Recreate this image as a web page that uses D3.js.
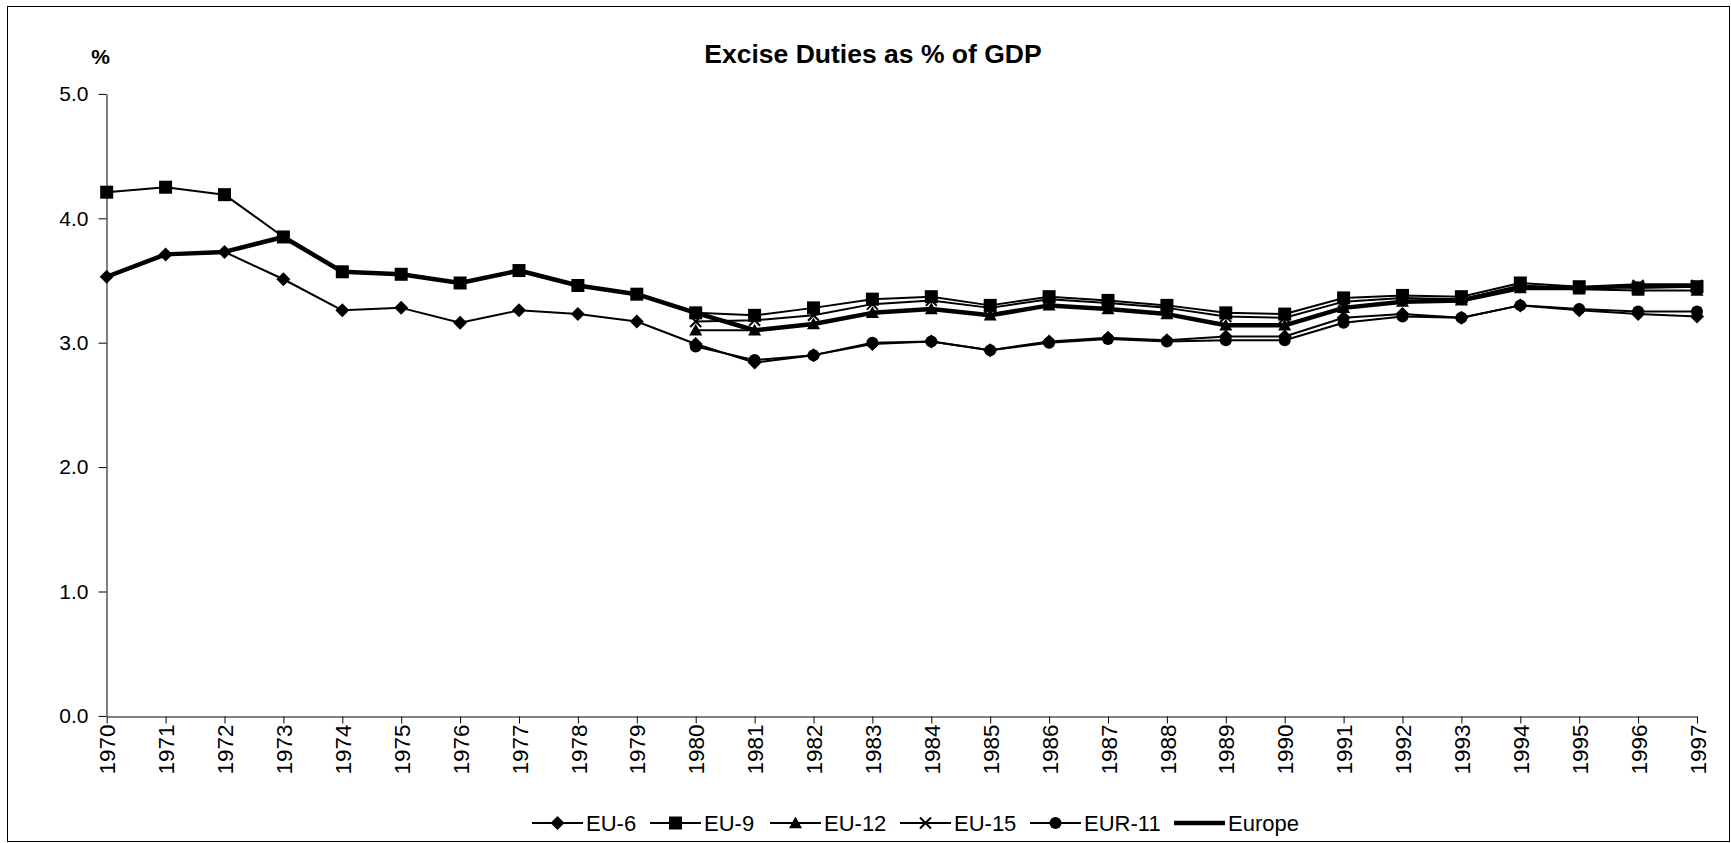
<!DOCTYPE html>
<html>
<head>
<meta charset="utf-8">
<script src="https://cdn.jsdelivr.net/npm/d3@7"></script>
<style>
  html, body { margin: 0; padding: 0; background: #fff; }
  svg { display: block; }
  text { font-family: "Liberation Sans", Arial, sans-serif; fill: #000; }
</style>
</head>
<body>
<script>
// ---- data ----
const years = ["1970","1971","1972","1973","1974","1975","1976","1977","1978","1979",
               "1980","1981","1982","1983","1984","1985","1986","1987","1988","1989",
               "1990","1991","1992","1993","1994","1995","1996","1997"];
const yTicks = [0, 1, 2, 3, 4, 5];

const eu6 = [3.53, 3.71, 3.73, 3.51, 3.26, 3.28, 3.16, 3.26, 3.23, 3.17,
             2.99, 2.84, 2.90, 2.99, 3.01, 2.94, 3.01, 3.04, 3.02, 3.05,
             3.05, 3.20, 3.23, 3.20, 3.30, 3.26, 3.23, 3.21];
const eu9 = [4.21, 4.25, 4.19, 3.85, 3.57, 3.55, 3.48, 3.58, 3.46, 3.39,
             3.24, 3.22, 3.28, 3.35, 3.37, 3.30, 3.37, 3.34, 3.30, 3.24,
             3.23, 3.36, 3.38, 3.37, 3.48, 3.45, 3.44, 3.45];
const eu12 = [null, null, null, null, null, null, null, null, null, null,
              3.10, 3.10, 3.15, 3.24, 3.27, 3.22, 3.30, 3.27, 3.23, 3.14,
              3.14, 3.28, 3.33, 3.34, 3.44, 3.43, 3.42, 3.42];
const eu15 = [null, null, null, null, null, null, null, null, null, null,
              3.17, 3.18, 3.22, 3.31, 3.34, 3.28, 3.35, 3.32, 3.28, 3.21,
              3.20, 3.33, 3.36, 3.35, 3.46, 3.44, 3.46, 3.46];
const eur11 = [null, null, null, null, null, null, null, null, null, null,
               2.97, 2.86, 2.90, 3.00, 3.01, 2.94, 3.00, 3.03, 3.01, 3.02,
               3.02, 3.16, 3.21, 3.20, 3.30, 3.27, 3.25, 3.25];
const europe = [3.53, 3.71, 3.73, 3.85, 3.57, 3.55, 3.48, 3.58, 3.46, 3.39,
                3.24, 3.10, 3.15, 3.24, 3.27, 3.22, 3.30, 3.27, 3.23, 3.14,
                3.14, 3.28, 3.33, 3.34, 3.44, 3.44, 3.46, 3.46];

const seriesNames = ["EU-6", "EU-9", "EU-12", "EU-15", "EUR-11", "Europe"];
const seriesValues = [eu6, eu9, eu12, eu15, eur11, europe];
const seriesMarkers = ["diamond", "square", "triangle", "x", "circle", "none"];

// ---- chart ----
const W = 1731, H = 843;
const svg = d3.select("body").append("svg").attr("width", W).attr("height", H);

svg.append("rect").attr("x", 7.5).attr("y", 6.5).attr("width", 1722).attr("height", 835)
  .attr("fill", "#fff").attr("stroke", "#000").attr("stroke-width", 1);

const x = d3.scalePoint().domain(years).range([106.7, 1697]);
const y = d3.scaleLinear().domain([0, 5]).range([715.9, 93.9]);

// title
svg.append("text").attr("x", 873).attr("y", 62.5).attr("text-anchor", "middle")
  .style("font-weight", "bold").style("font-size", "26.5px").text("Excise Duties as % of GDP");
svg.append("text").attr("x", 100.5).attr("y", 64).attr("text-anchor", "middle")
  .style("font-weight", "bold").style("font-size", "21px").text("%");

// y axis
const gy = svg.append("g").attr("transform", "translate(106.5,0)")
  .call(d3.axisLeft(y).tickValues(yTicks).tickFormat(d3.format(".1f")).tickSize(8).tickSizeOuter(0).tickPadding(10));
gy.selectAll("text").style("font-size", "21px").style("font-family", "'Liberation Sans', Arial, sans-serif");
gy.selectAll("path,line").attr("stroke", "#000").attr("stroke-width", 1);

// x axis
const gx = svg.append("g").attr("transform", "translate(0,716.5)")
  .call(d3.axisBottom(x).tickSize(7).tickSizeOuter(0));
gx.selectAll("path,line").attr("stroke", "#000").attr("stroke-width", 1);
gx.selectAll("text")
  .style("font-size", "22.5px").style("font-family", "'Liberation Sans', Arial, sans-serif")
  .attr("transform", "rotate(-90)").attr("text-anchor", "end")
  .attr("x", -8).attr("y", 0).attr("dy", "0.36em");

// marker drawing
function drawMarker(g, type, cx, cy) {
  if (type === "diamond") {
    const r = 7;
    g.append("path").attr("d", `M${cx},${cy - r}L${cx + r},${cy}L${cx},${cy + r}L${cx - r},${cy}Z`).attr("fill", "#000");
  } else if (type === "square") {
    const s = 6.5;
    g.append("rect").attr("x", cx - s).attr("y", cy - s).attr("width", 2 * s).attr("height", 2 * s).attr("fill", "#000");
  } else if (type === "triangle") {
    const s = 6.5;
    g.append("path").attr("d", `M${cx},${cy - s}L${cx + s},${cy + s * 0.8}L${cx - s},${cy + s * 0.8}Z`).attr("fill", "#000");
  } else if (type === "circle") {
    g.append("circle").attr("cx", cx).attr("cy", cy).attr("r", 6).attr("fill", "#000");
  } else if (type === "x") {
    const s = 5.5;
    g.append("path").attr("d", `M${cx - s},${cy - s}L${cx + s},${cy + s}M${cx - s},${cy + s}L${cx + s},${cy - s}`)
      .attr("stroke", "#000").attr("stroke-width", 2).attr("fill", "none");
  }
}

const line = d3.line()
  .defined(d => d.v != null)
  .x(d => x(d.year))
  .y(d => y(d.v));

const plot = svg.append("g");
seriesValues.forEach((vals, si) => {
  const pts = vals.map((v, i) => ({ year: years[i], v }));
  const isEurope = seriesNames[si] === "Europe";
  const g = plot.append("g");
  g.append("path").attr("d", line(pts)).attr("fill", "none").attr("stroke", "#000")
    .attr("stroke-width", isEurope ? 4.5 : 2).attr("stroke-linejoin", "round");
  pts.filter(p => p.v != null).forEach(p => drawMarker(g, seriesMarkers[si], x(p.year), y(p.v)));
});

// legend
const legendX = [532, 650, 770, 900, 1030, 1174];
const legendY = 823;
const lg = svg.append("g");
seriesNames.forEach((name, i) => {
  const lx = legendX[i];
  const isEurope = name === "Europe";
  lg.append("line").attr("x1", lx).attr("x2", lx + 51).attr("y1", legendY).attr("y2", legendY)
    .attr("stroke", "#000").attr("stroke-width", isEurope ? 4.5 : 2);
  drawMarker(lg, seriesMarkers[i], lx + 25.5, legendY);
  lg.append("text").attr("x", lx + 54).attr("y", legendY + 8).style("font-size", "22px").text(name);
});
</script>
</body>
</html>
